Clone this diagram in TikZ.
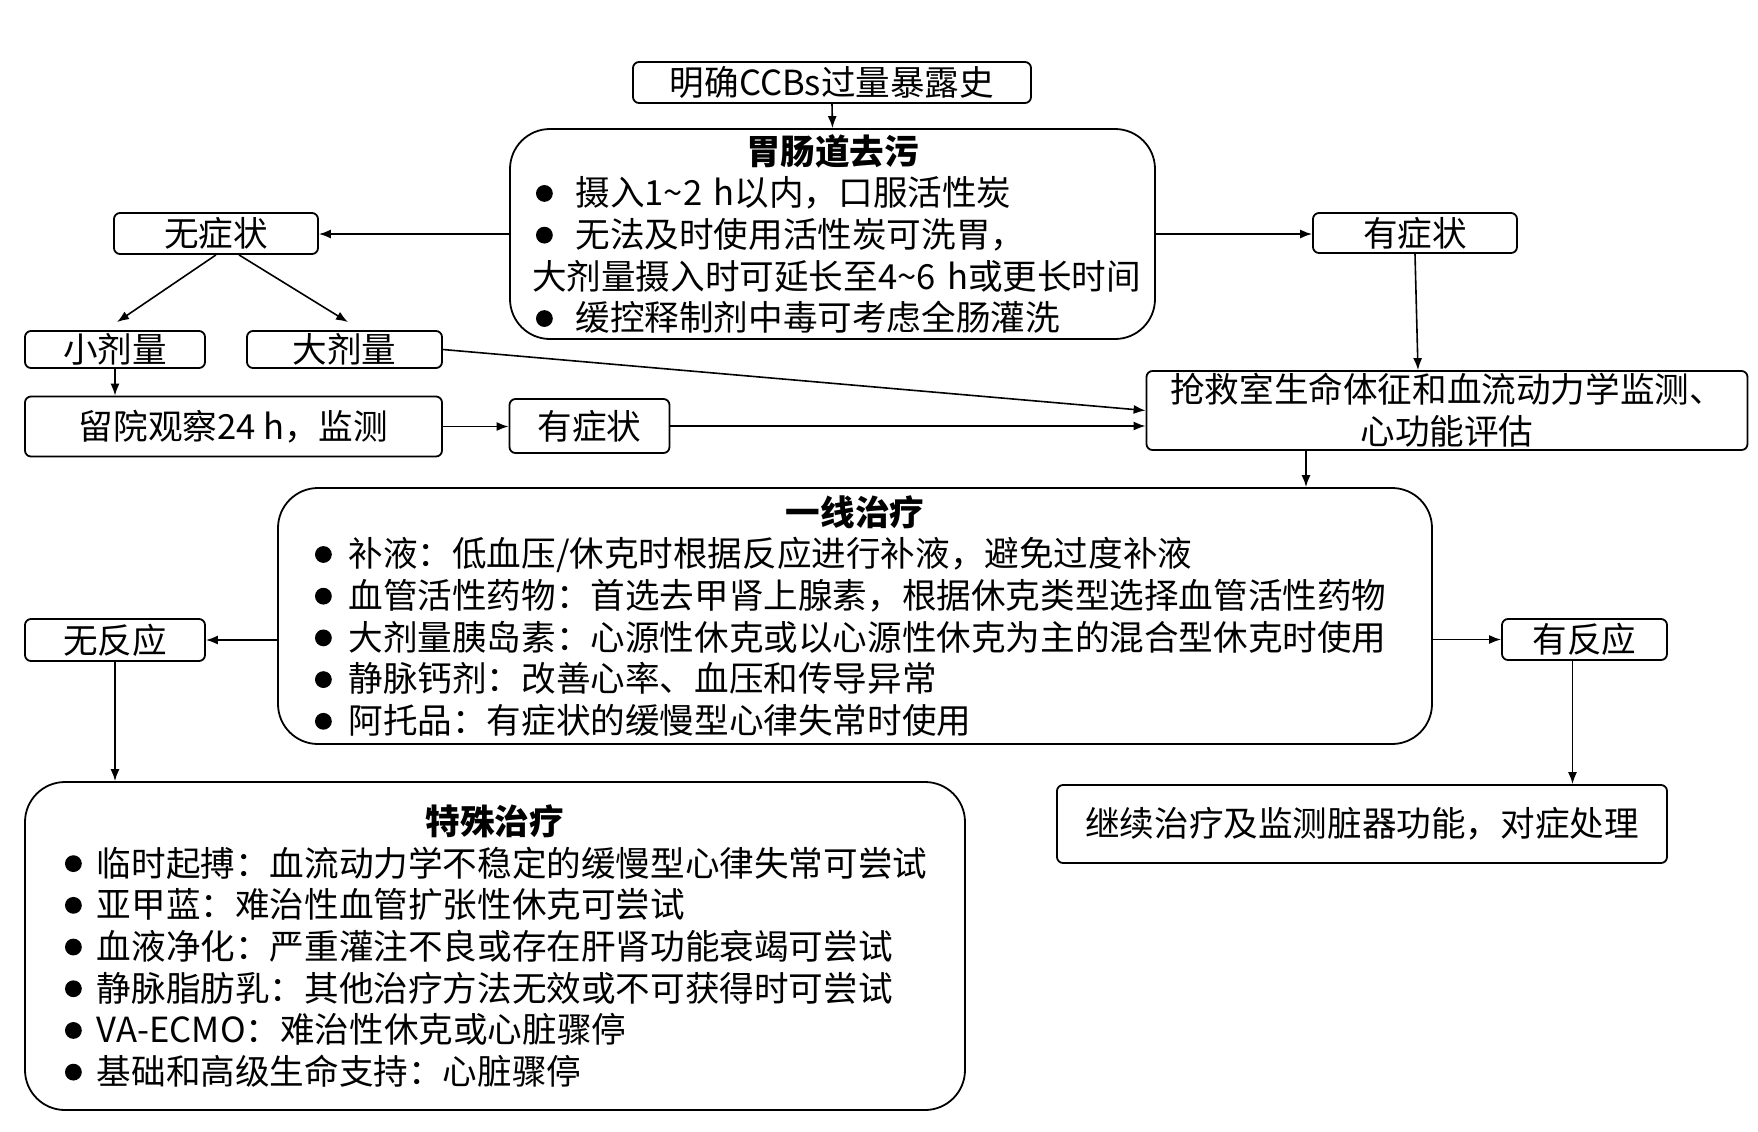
\documentclass[tikz,border=0pt]{standalone}
\usepackage{fontspec}
\setmainfont{Noto Sans CJK SC}
\usetikzlibrary{arrows.meta,calc}
\setlength{\parindent}{0pt}
\newcommand\bul[1]{\makebox[#1][l]{\tikz[baseline=-6.2pt]\fill (4.2pt,0pt) circle[radius=4.2pt];}}
\begin{document}
\begin{tikzpicture}[x=0.5pt,y=-0.5pt,
  font=\fontsize{17.3pt}{20.85pt}\selectfont,
  sbox/.style={draw,line width=0.9pt,rounded corners=3pt,inner sep=0pt,align=center},
  bbox/.style={draw,line width=0.9pt,rounded corners=20pt,inner ysep=0pt,align=left},
  arr/.style={-{Latex[length=6pt,width=4.5pt]},line width=0.8pt}]
\useasboundingbox (0,0) rectangle (1758,1131);
\fill[white] (0,0) rectangle (1758,1131);

\node[sbox,minimum width=199pt,minimum height=20.5pt] (top) at (832,82.5) {明确CCBs过量暴露史};

\node[bbox,minimum width=322.5pt,minimum height=105pt,text width=300.5pt,inner xsep=11pt] (gc) at (832.5,234)
{{\centering\bfseries 胃肠道去污\par}
\hspace*{2pt}\bul{19.7pt}摄入1\textasciitilde 2~h以内，口服活性炭\par
\hspace*{2pt}\bul{19.7pt}无法及时使用活性炭可洗胃，\par
大剂量摄入时可延长至4\textasciitilde 6~h或更长时间\par
\hspace*{2pt}\bul{19.7pt}缓控释制剂中毒可考虑全肠灌洗};

\node[sbox,minimum width=102pt,minimum height=20.5pt] (wzz) at (216,233.5) {无症状};
\node[sbox,minimum width=102pt,minimum height=20pt] (yzzR) at (1415,233) {有症状};
\node[sbox,minimum width=90pt,minimum height=18.5pt] (xjl) at (115,349.5) {小剂量};
\node[sbox,minimum width=97.5pt,minimum height=18.5pt] (djl) at (344.5,349.5) {大剂量};
\node[sbox,minimum width=208.5pt,minimum height=30pt] (ly) at (233.5,426.5) {留院观察24~h，监测};
\node[sbox,minimum width=80pt,minimum height=27pt] (yzzM) at (589.5,426) {有症状};
\node[sbox,minimum width=300.5pt,minimum height=39.5pt] (qjs) at (1447,410.5) {抢救室生命体征和血流动力学监测、\\心功能评估};

\node[bbox,minimum width=577pt,minimum height=128pt,text width=540pt,inner xsep=18.5pt] (yx) at (855,616)
{{\centering\bfseries 一线治疗\par}
\bul{16.7pt}补液：低血压/休克时根据反应进行补液，避免过度补液\par
\bul{16.7pt}血管活性药物：首选去甲肾上腺素，根据休克类型选择血管活性药物\par
\bul{16.7pt}大剂量胰岛素：心源性休克或以心源性休克为主的混合型休克时使用\par
\bul{16.7pt}静脉钙剂：改善心率、血压和传导异常\par
\bul{16.7pt}阿托品：有症状的缓慢型心律失常时使用};

\node[sbox,minimum width=90pt,minimum height=21pt] (wfy) at (115,640) {无反应};
\node[sbox,minimum width=82.5pt,minimum height=20.5pt] (yfy) at (1584.5,639.5) {有反应};

\node[bbox,minimum width=470pt,minimum height=164pt,text width=430pt,inner xsep=20pt] (ts) at (495,946)
{{\centering\bfseries 特殊治疗\par}
\bul{16pt}临时起搏：血流动力学不稳定的缓慢型心律失常可尝试\par
\bul{16pt}亚甲蓝：难治性血管扩张性休克可尝试\par
\bul{16pt}血液净化：严重灌注不良或存在肝肾功能衰竭可尝试\par
\bul{16pt}静脉脂肪乳：其他治疗方法无效或不可获得时可尝试\par
\bul{16pt}VA-ECMO：难治性休克或心脏骤停\par
\bul{16pt}基础和高级生命支持：心脏骤停};

\node[sbox,minimum width=305pt,minimum height=39pt] (jx) at (1362,824) {继续治疗及监测脏器功能，对症处理};

\draw[arr] (top.south) -- (gc.north);
\draw[arr] (gc.west) -- (gc.west -| wzz.east);
\draw[arr] (gc.east) -- (gc.east -| yzzR.west);
\draw[arr] (wzz.south) -- ($(xjl.north)+(2,-8)$);
\draw[arr] ($(wzz.south)+(23,0)$) -- ($(djl.north)+(3.5,-8)$);
\draw[arr] (xjl.south) -- (xjl.south |- ly.north);
\draw[arr] (djl.east) -- (qjs.west);
\draw[arr] (ly.east) -- (ly.east -| yzzM.west);
\draw[arr] (yzzM.east) -- (yzzM.east -| qjs.west);
\draw[arr] (yzzR.south) -- ($(qjs.north)+(-29,0)$);
\draw[arr] ($(qjs.south)+(-141,0)$) coordinate (q1) -- (q1 |- yx.north);
\draw[arr] (yx.west |- wfy) -- (wfy.east);
\draw[arr] (yx.east |- yfy) -- (yfy.west);
\draw[arr] (wfy.south) -- (wfy.south |- ts.north);
\draw[arr] ($(yfy.south)+(-12,0)$) coordinate (y1) -- (y1 |- jx.north);
\end{tikzpicture}
\end{document}
